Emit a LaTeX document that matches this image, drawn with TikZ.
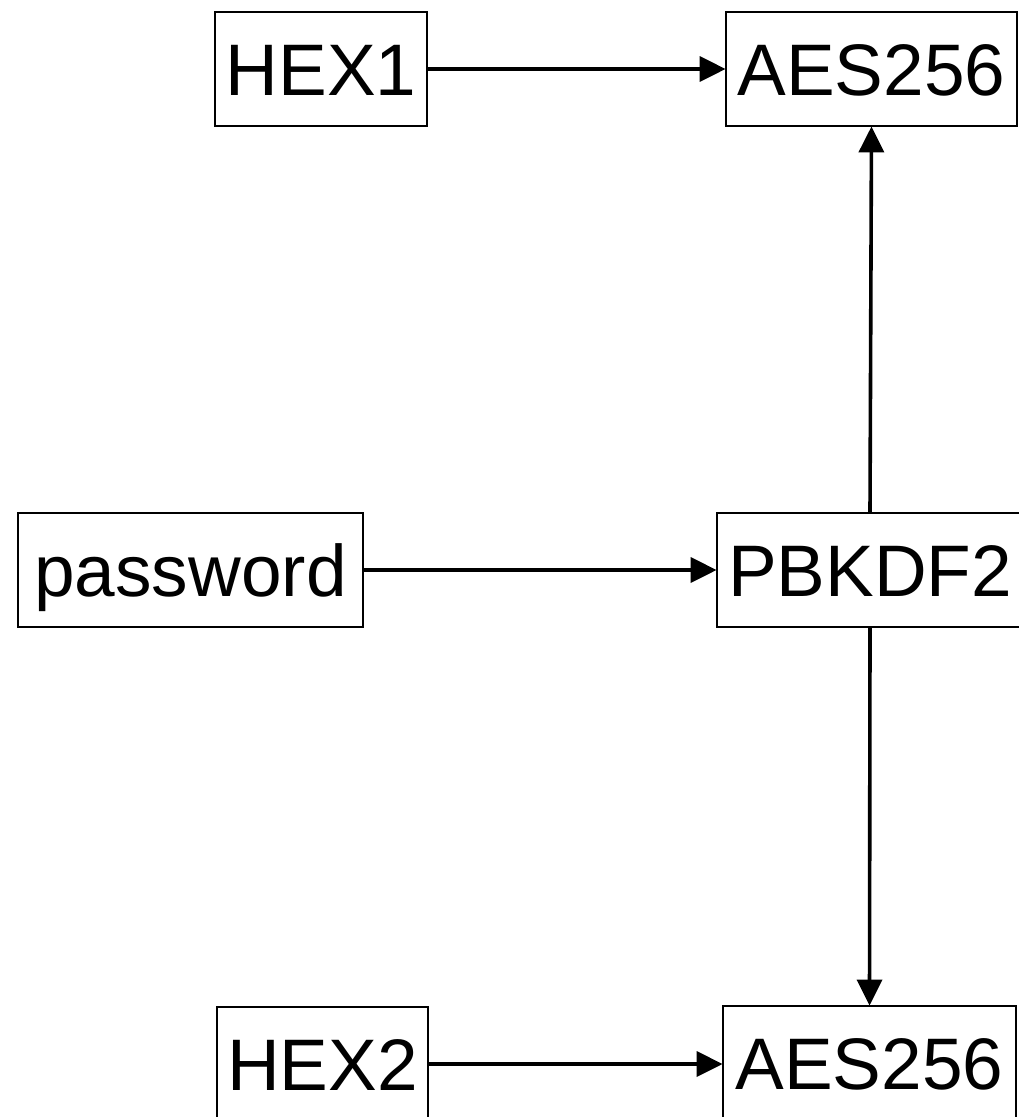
\documentclass[tikz,border=0pt]{standalone}
\usepackage{fontspec}
\setmainfont{Liberation Sans}
\usetikzlibrary{arrows.meta}
\begin{document}
\begin{tikzpicture}[x=1pt,y=-1pt,
  blk/.style={draw, line width=1.8pt, inner sep=0pt, minimum height=114pt,
    font=\fontsize{73}{80}\selectfont, text height=52pt, text depth=0pt},
  flow/.style={line width=3.6pt, -{Triangle[length=26pt,width=25pt]}, shorten >=-0.5pt}
]
\useasboundingbox (0,0) rectangle (1018,1117);
\node[blk, minimum width=212pt] (hexa) at (321,69) {HEX1};
\node[blk, minimum width=291pt] (aesa) at (871.5,69) {AES256};
\node[blk, minimum width=345pt] (pw) at (190.5,570) {password};
\node[blk, minimum width=306pt] (kdf) at (870,570) {PBKDF2};
\node[blk, minimum width=211pt] (hexb) at (322.5,1064) {HEX2};
\node[blk, minimum width=293pt] (aesb) at (869.5,1063) {AES256};
\draw[flow] (hexa) -- (aesa);
\draw[flow] (pw) -- (kdf);
\draw[flow] (hexb) -- (hexb -| aesb.west);
\draw[flow] (kdf.north) -- (aesa.south);
\draw[flow] (kdf.south) -- (aesb.north);
\end{tikzpicture}
\end{document}
